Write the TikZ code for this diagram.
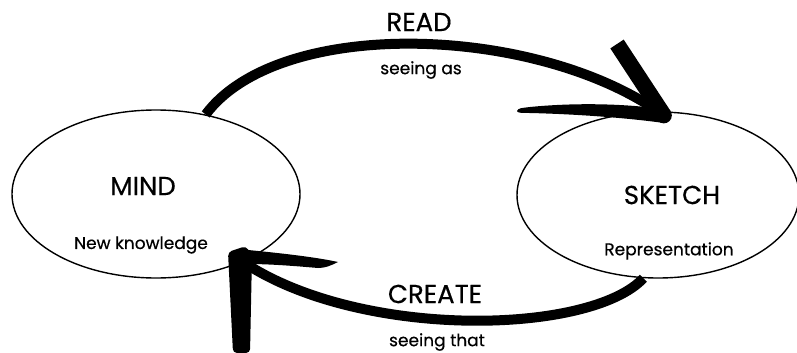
\documentclass[tikz,border=0pt]{standalone}
\usepackage{fontspec}
\setmainfont{Poppins}[FakeBold=0.5]
\usetikzlibrary{shapes.geometric,calc}
\begin{document}
\begin{tikzpicture}[x=1pt,y=-1pt,
  state/.style={ellipse, draw, line width=1.4pt, inner sep=0pt},
  big/.style={font=\fontsize{26}{28}\selectfont, inner sep=0pt},
  small/.style={font=\fontsize{17}{20}\selectfont, inner sep=0pt},
  stroke/.style={line width=10pt},
  barb/.style={line width=16pt}]
\useasboundingbox (0,0) rectangle (797,353);
\node[state, minimum width=288pt, minimum height=168pt] (mind) at (156,194) {};
\node[state, minimum width=282pt, minimum height=166pt] (sketch) at (658,195) {};
\node[big] (mindlabel) at (143,186) {MIND};
\node[small] (mindsub) at (141,245) {New knowledge};
\node[big] (sketchlabel) at (672,195) {SKETCH};
\node[small] (sketchsub) at (669,251) {Representation};
\node[big] (readlabel) at (419,22) {READ};
\node[small] (readsub) at (421,70) {seeing as};
\node[big] (createlabel) at (435,294) {CREATE};
\node[small] (createsub) at (437,342) {seeing that};
% READ arrow
\coordinate (readstart) at (mind.58);
\coordinate (readtip) at ($(sketch.86)+(0,4)$);
\draw[stroke] (readstart) .. controls (280,15) and (540,25) .. (readtip);
\draw[barb] (617,44) -- (readtip);
\fill (readtip) circle (8);
\fill (517,111) .. controls (518,108) and (522,108) .. (530,107) .. controls (570,103) and (620,103) .. (662,109) -- (664,123) .. controls (620,117) and (570,114) .. (530,113) .. controls (522,113) and (517,113) .. (517,111) -- cycle;
% CREATE arrow
\coordinate (createstart) at (sketch.-100);
\coordinate (createtip) at (mind.-38);
\draw[stroke] (createstart) .. controls (590,335) and (360,340) .. (createtip);
\fill[rounded corners=4pt] (228,252) -- (246,246) -- (252,256) -- (250,353) -- (233,353) -- cycle;
\fill (248,250) .. controls (290,254) and (320,258) .. (338,262) .. controls (330,266) and (325,268) .. (318,268) .. controls (295,266) and (270,264) .. (248,264) -- cycle;
\end{tikzpicture}
\end{document}
